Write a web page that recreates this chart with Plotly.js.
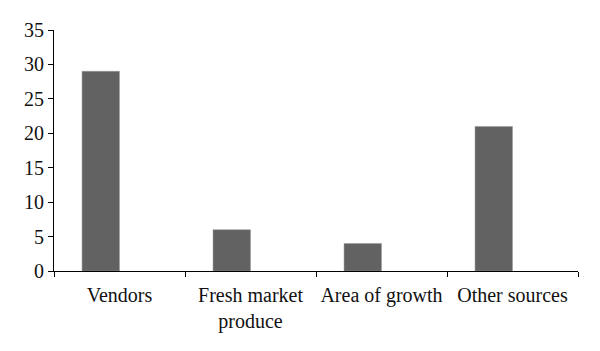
<!DOCTYPE html>
<html>
<head>
<meta charset="utf-8">
<script src="https://cdn.plot.ly/plotly-3.0.1.min.js"></script>
<style>html,body{margin:0;padding:0;background:#fff;}#chart{width:600px;height:351px;}</style>
</head>
<body>
<div id="chart"></div>
<script>
const categories = ["Vendors", "Fresh market<br>produce", "Area of growth", "Other sources"];
const values = [29, 6, 4, 21];
const yTicks = [0, 5, 10, 15, 20, 25, 30, 35];

const data = [{
  type: "bar",
  x: categories,
  y: values,
  width: 0.286,
  offset: -0.286,
  marker: {color: "#626262", line: {color: "#9a9a9a", width: 0.5}},
  hoverinfo: "none"
}];

const fontSpec = {family: "Liberation Serif, Times New Roman, serif", size: 20, color: "#111"};

const layout = {
  width: 600,
  height: 351,
  margin: {l: 54, r: 22, t: 30, b: 80},
  paper_bgcolor: "#ffffff",
  plot_bgcolor: "#ffffff",
  showlegend: false,
  font: fontSpec,
  xaxis: {
    type: "category",
    range: [-0.5, 3.5],
    showline: true,
    linecolor: "#000",
    linewidth: 1,
    ticks: "outside",
    tickson: "boundaries",
    ticklen: 5,
    tickcolor: "#000",
    tickangle: 0,
    ticklabelstandoff: 6,
    showgrid: false,
    zeroline: false,
    tickfont: fontSpec
  },
  yaxis: {
    range: [0, 35],
    tickvals: yTicks,
    ticktext: yTicks.map(String),
    showline: true,
    linecolor: "#000",
    linewidth: 1,
    ticks: "outside",
    ticklen: 5,
    tickcolor: "#000",
    showgrid: false,
    zeroline: false,
    tickfont: fontSpec
  }
};

Plotly.newPlot("chart", data, layout, {displayModeBar: false, staticPlot: true});
</script>
</body>
</html>
